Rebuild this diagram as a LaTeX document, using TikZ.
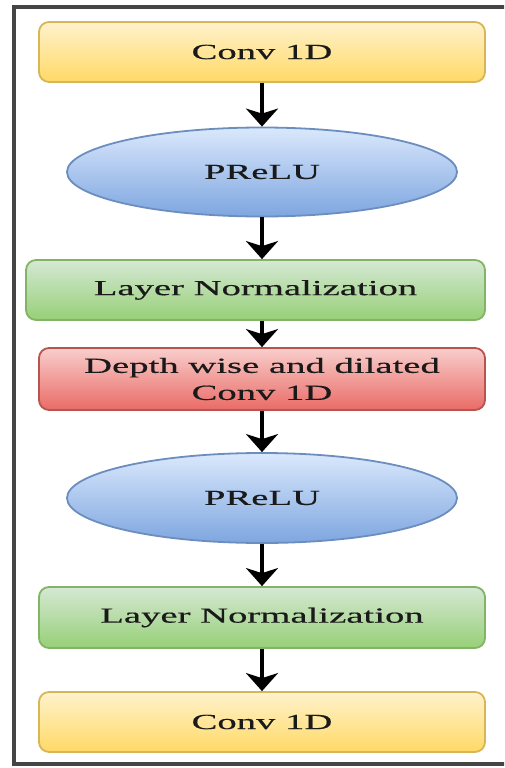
\documentclass[tikz,border=0pt]{standalone}
\usepackage{fontspec}
\setmainfont[FakeStretch=1.8,FakeBold=0.5]{Liberation Serif}
\usetikzlibrary{shapes.geometric,arrows.meta}
\definecolor{ylwF}{HTML}{FFF2CC}
\definecolor{ylwB}{HTML}{FFD966}
\definecolor{ylwS}{HTML}{D6B656}
\definecolor{bluF}{HTML}{DAE8FC}
\definecolor{bluB}{HTML}{7EA6E0}
\definecolor{bluS}{HTML}{6C8EBF}
\definecolor{grnF}{HTML}{D5E8D4}
\definecolor{grnB}{HTML}{97D077}
\definecolor{grnS}{HTML}{82B366}
\definecolor{redF}{HTML}{F8CECC}
\definecolor{redB}{HTML}{EA6B66}
\definecolor{redS}{HTML}{B85450}
\definecolor{frameC}{HTML}{454545}
\definecolor{txtC}{HTML}{1A1A1A}
\begin{document}
\begin{tikzpicture}[x=1pt,y=-1pt,
  basebox/.style={rounded corners=10pt, line width=1.8pt, minimum width=446pt,
    minimum height=60pt, inner sep=0pt, align=center, text=txtC,
    font=\fontsize{21.5}{27}\selectfont},
  ylwbox/.style={basebox, draw=ylwS, top color=ylwF, bottom color=ylwB},
  grnbox/.style={basebox, draw=grnS, top color=grnF, bottom color=grnB},
  redbox/.style={basebox, draw=redS, top color=redF, bottom color=redB},
  bluell/.style={ellipse, line width=1.8pt, draw=bluS, top color=bluF, bottom color=bluB,
    minimum width=390pt, minimum height=89pt, inner sep=0pt, text=txtC,
    font=\fontsize{21.5}{27}\selectfont},
  arr/.style={line width=3.5pt, -{Stealth[length=18pt,width=32pt,inset=5pt]}}
]
\useasboundingbox (0,0) rectangle (504,768);
\begin{scope}
  \clip (0,0) rectangle (504,768);
  \draw[line width=4pt, draw=frameC] (14,7) rectangle (520,764);
\end{scope}
\node[ylwbox] (c1) at (262,52) {Conv 1D};
\node[bluell] (p1) at (262,172) {PReLU};
\node[grnbox, minimum width=459pt] (n1) at (255.5,290) {Layer Normalization};
\node[redbox, minimum height=62pt] (d1) at (262,379) {Depth wise and dilated\\Conv 1D};
\node[bluell, minimum height=90pt] (p2) at (262,498) {PReLU};
\node[grnbox, minimum height=61pt] (n2) at (262,617.5) {Layer Normalization};
\node[ylwbox] (c2) at (262,722) {Conv 1D};
\draw[arr] (c1.south) -- (p1.north);
\draw[arr] (p1.south) -- (p1.south |- n1.north);
\draw[arr] (p1.south |- n1.south) -- (d1.north);
\draw[arr] (d1.south) -- (p2.north);
\draw[arr] (p2.south) -- (n2.north);
\draw[arr] (n2.south) -- (c2.north);
\end{tikzpicture}
\end{document}
